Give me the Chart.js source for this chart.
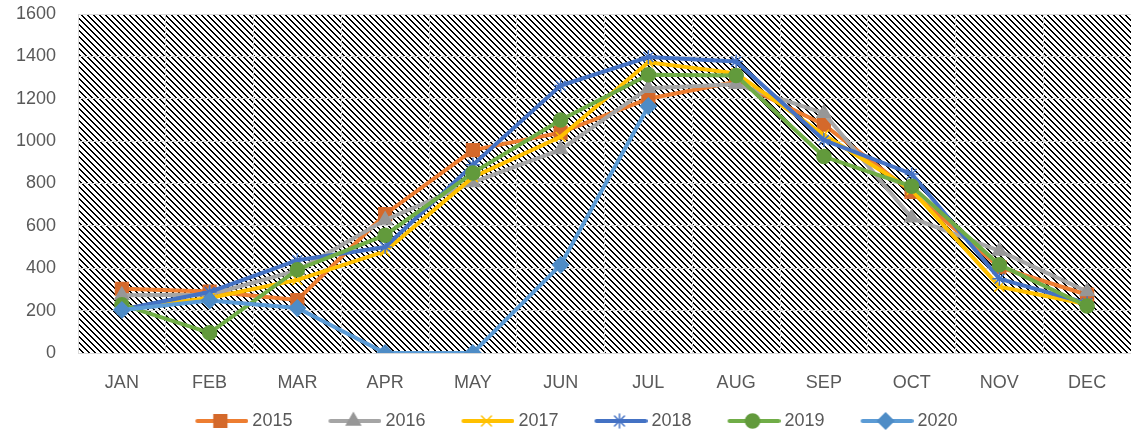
<!DOCTYPE html>
<html>
<head>
<meta charset="utf-8">
<script src="https://cdn.jsdelivr.net/npm/chart.js@4"></script>
<style>
html,body{margin:0;padding:0;background:#fff;}
#wrap{width:1131px;height:435px;position:relative;}
</style>
</head>
<body>
<div id="wrap"><canvas id="c" width="1131" height="435"></canvas></div>
<script>
const months = ['JAN','FEB','MAR','APR','MAY','JUN','JUL','AUG','SEP','OCT','NOV','DEC'];
const yTicks = [0,200,400,600,800,1000,1200,1400,1600];
const s2015 = [303, 290, 250, 655, 958, 1040, 1200, 1280, 1078, 760, 405, 275];
const s2016 = [272, 275, 390, 628, 805, 960, 1250, 1268, 1132, 638, 482, 290];
const s2017 = [210, 260, 345, 480, 830, 1020, 1372, 1320, 1030, 770, 313, 230];
const s2018 = [205, 288, 438, 500, 888, 1262, 1397, 1376, 1005, 845, 350, 235];
const s2019 = [228, 95, 393, 556, 850, 1100, 1313, 1310, 927, 787, 416, 222];
const s2020 = [203, 248, 212, 0, 0, 416, 1165, null, null, null, null, null];

const FONT = "'Liberation Sans', Arial, sans-serif";
const TXT = '#595959';

const seriesDefs = [
  {label:'2015', data:s2015, color:'#ED7D31', fill:'#D4692B', style:'rect', r:9},
  {label:'2016', data:s2016, color:'#A5A5A5', fill:'#979797', style:'triangle', r:8},
  {label:'2017', data:s2017, color:'#FFC000', fill:'#FFC000', style:'crossRot', r:7},
  {label:'2018', data:s2018, color:'#4472C4', fill:'#4472C4', style:'star', r:7},
  {label:'2019', data:s2019, color:'#70AD47', fill:'#629A3C', style:'circle', r:7},
  {label:'2020', data:s2020, color:'#5B9BD5', fill:'#4E8CC6', style:'rectRot', r:8}
];

const BOXW = 70;
function legendIcon(d){
  const cv = document.createElement('canvas');
  cv.width = 80; cv.height = 20;
  const ctx = cv.getContext('2d');
  ctx.strokeStyle = d.color; ctx.lineWidth = 4; ctx.lineCap='round';
  ctx.beginPath(); ctx.moveTo(29,10); ctx.lineTo(78,10); ctx.stroke();
  ctx.fillStyle = d.fill; ctx.strokeStyle = (d.style==='crossRot'||d.style==='star')? d.color : d.fill;
  ctx.lineWidth = 1.5;
  Chart.helpers.drawPoint(ctx, {pointStyle:d.style, radius:d.r, rotation:0, borderWidth:1.5}, 52, 10);
  return cv;
}
const icons = seriesDefs.map(legendIcon);

function makePattern(ctx){
  const P = 6;
  const t = document.createElement('canvas');
  t.width = P; t.height = P;
  const tc = t.getContext('2d');
  const img = tc.createImageData(P,P);
  for(let y=0;y<P;y++){for(let x=0;x<P;x++){
    const k = ((x - y) % P + P) % P;
    const dark = (k===0 || k===1);
    const i=(y*P+x)*4;
    const v = dark?0:255;
    img.data[i]=v;img.data[i+1]=v;img.data[i+2]=v;img.data[i+3]=255;
  }}
  tc.putImageData(img,0,0);
  return ctx.createPattern(t,'repeat');
}

const hatchPlugin = {
  id:'hatch',
  beforeDraw(chart){
    const {ctx, chartArea:a} = chart;
    ctx.save();
    ctx.fillStyle = makePattern(ctx);
    ctx.fillRect(a.left, a.top, a.right-a.left, a.bottom-a.top);
    ctx.restore();
  }
};

const datasets = seriesDefs.map((d,i)=>({
  label:d.label, data:d.data,
  order: seriesDefs.length - i,
  borderColor:d.color, backgroundColor:d.fill,
  borderWidth:4,
  pointStyle:d.style, pointRadius:d.r, pointHoverRadius:d.r,
  pointBackgroundColor:d.fill,
  pointBorderColor:(d.style==='crossRot'||d.style==='star')? d.color : d.fill,
  pointBorderWidth:1.5,
  tension:0, spanGaps:false, fill:false
}));

new Chart(document.getElementById('c'), {
  type:'line',
  data:{labels:months, datasets},
  plugins:[hatchPlugin],
  options:{
    responsive:false, animation:false, devicePixelRatio:1,
    layout:{autoPadding:false, padding:{top:14,right:0,left:0,bottom:-5}},
    plugins:{
      tooltip:{enabled:false},
      legend:{
        position:'bottom',
        labels:{
          usePointStyle:true, pointStyleWidth:BOXW,
          font:{family:FONT,size:18}, color:TXT, padding:14,
          sort:(a,b)=>a.datasetIndex-b.datasetIndex,
          generateLabels(chart){
            const items = Chart.defaults.plugins.legend.labels.generateLabels(chart);
            items.forEach(it=>{ it.pointStyle = icons[it.datasetIndex]; });
            return items;
          }
        }
      }
    },
    scales:{
      x:{
        offset:true,
        grid:{offset:true, color:'#D9D9D9', lineWidth:1, drawTicks:false},
        border:{display:true, color:'#D9D9D9'},
        ticks:{font:{family:FONT,size:18}, color:TXT, padding:19, maxRotation:0, autoSkip:false},
        afterFit(s){ s.height = 45; s.paddingLeft = 0; s.paddingRight = 0; }
      },
      y:{
        min:0, max:1600,
        afterBuildTicks(s){ s.ticks = yTicks.map(v=>({value:v})); },
        grid:{color:'#D9D9D9', lineWidth:1, drawTicks:false},
        border:{display:true, color:'#D9D9D9'},
        ticks:{font:{family:FONT,size:18}, color:TXT, padding:22, callback:(v)=>String(v)},
        afterFit(s){ s.width = 78; s.paddingTop = 0; s.paddingBottom = 0; }
      }
    }
  }
});
</script>
</body>
</html>
